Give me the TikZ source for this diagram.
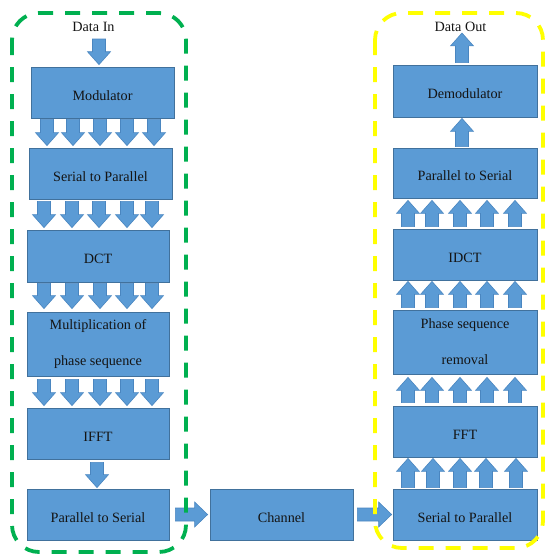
\documentclass[tikz,border=0pt]{standalone}
\usepackage{fontspec}
\setmainfont{Liberation Serif}
\usetikzlibrary{calc}

\definecolor{boxblue}{HTML}{5B9BD5}
\definecolor{boxedge}{HTML}{41719C}
\definecolor{arrowedge}{HTML}{4A86C0}
\definecolor{framegreen}{HTML}{00B050}
\definecolor{frameyellow}{HTML}{FFFF00}
\definecolor{labeltext}{HTML}{141414}

\tikzset{
  labelfont/.style={font=\fontsize{14.2}{17}\selectfont, text=labeltext},
  stage/.style={draw=boxedge, fill=boxblue, line width=0.8pt, inner sep=0pt,
    minimum width=143pt, minimum height=51pt, labelfont},
  oneline/.style={text height=15pt, text depth=0pt},
  twoline/.style={align=center, font=\fontsize{14.2}{36}\selectfont},
  blockarrow/.style={fill=boxblue, draw=arrowedge, line width=0.6pt, line join=miter},
  groupframe/.style={dash pattern=on 15pt off 12pt, line width=3.8pt, rounded corners=27pt}
}

% vertical block arrow: base point, tip point, x position
\newcommand\blockv[3]{%
  \path[blockarrow] let \p1=#1, \p2=#2, \p3=($(\p2)!13pt!(\p1)$), \p4=(#3,0) in
    (\x4-6.5pt,\y1) -- (\x4-6.5pt,\y3) -- (\x4-11.5pt,\y3) -- (\x4,\y2)
    -- (\x4+11.5pt,\y3) -- (\x4+6.5pt,\y3) -- (\x4+6.5pt,\y1) -- cycle;}

% horizontal block arrow: base point, tip point
\newcommand\blockh[2]{%
  \path[blockarrow] let \p1=#1, \p2=#2, \p3=($(\p2)!13pt!(\p1)$) in
    (\x1,\y1-6.5pt) -- (\x3,\y1-6.5pt) -- (\x3,\y1-12.5pt) -- (\x2,\y1)
    -- (\x3,\y1+12.5pt) -- (\x3,\y1+6.5pt) -- (\x1,\y1+6.5pt) -- cycle;}

\begin{document}
\begin{tikzpicture}[x=1pt, y=-1pt]
\useasboundingbox (0,0) rectangle (544,554);

% transmitter chain
\node[labelfont, inner sep=0pt] (datain) at (93.5,27) {Data In};
\node[stage, oneline] (mod) at (102.5,92.5) {Modulator};
\node[stage, oneline] (sp) at (100.5,173.5) {Serial to Parallel};
\node[stage, oneline, minimum width=142pt, minimum height=52pt] (dct) at (98,256) {DCT};
\node[stage, twoline, minimum width=142pt, minimum height=64pt] (mult) at (98,344) {Multiplication of\\phase sequence};
\node[stage, oneline, minimum width=142pt] (ifft) at (98,433.5) {IFFT};
\node[stage, oneline, minimum width=142pt] (ptos) at (98,514.5) {Parallel to Serial};

% channel
\node[stage, oneline] (chan) at (281.5,514.5) {Channel};

% receiver chain
\node[labelfont, inner sep=0pt] (dataout) at (460.5,27) {Data Out};
\node[stage, oneline, minimum width=144pt, minimum height=52pt] (demod) at (465,91) {Demodulator};
\node[stage, oneline, minimum width=144pt, minimum height=50pt] (rptos) at (465,173) {Parallel to Serial};
\node[stage, oneline, minimum width=144pt] (idct) at (465,254.5) {IDCT};
\node[stage, twoline, minimum width=144pt, minimum height=64pt] (psr) at (465,342) {Phase sequence\\removal};
\node[stage, oneline, minimum width=144pt] (fft) at (465,431.5) {FFT};
\node[stage, oneline, minimum width=144pt] (rsp) at (465,514.5) {Serial to Parallel};

\coordinate (inTop) at (99,39);
\coordinate (outTip) at (462,33);

% arrows of the transmitter
\blockv{(inTop)}{($(mod.north)+(0,-2)$)}{99}
\foreach \ax in {47,73,100,127,154}
  {\blockv{($(mod.south)+(0,1)$)}{($(sp.north)+(0,-2)$)}{\ax}}
\foreach \ax in {44,72,99,127,152}
  {\blockv{($(sp.south)+(0,2)$)}{($(dct.north)+(0,-2)$)}{\ax}}
\foreach \ax in {44,72,100,127,152}
  {\blockv{($(dct.south)+(0,1)$)}{($(mult.north)+(0,-3)$)}{\ax}}
\foreach \ax in {44,72,100,127,152}
  {\blockv{($(mult.south)+(0,3)$)}{($(ifft.north)+(0,-2)$)}{\ax}}
\blockv{($(ifft.south)+(0,3)$)}{($(ptos.north)+(0,-1)$)}{97}

% arrows through the channel
\blockh{($(ptos.east)+(6,0)$)}{($(chan.west)+(-2,0)$)}
\blockh{($(chan.east)+(4,0)$)}{($(rsp.west)+(-1,0)$)}

% arrows of the receiver
\foreach \ax in {408,433,460,486,516}
  {\blockv{($(rsp.north)+(0,-1)$)}{($(fft.south)+(0,1)$)}{\ax}}
\foreach \ax in {408,432,460,487,515}
  {\blockv{($(fft.north)+(0,-3)$)}{($(psr.south)+(0,3)$)}{\ax}}
\foreach \ax in {408,432,460,487,515}
  {\blockv{($(psr.north)+(0,-2)$)}{($(idct.south)+(0,1)$)}{\ax}}
\foreach \ax in {408,432,460,487,515}
  {\blockv{($(idct.north)+(0,-2)$)}{($(rptos.south)+(0,2)$)}{\ax}}
\blockv{($(rptos.north)+(0,-1)$)}{($(demod.south)+(0,1)$)}{462}
\blockv{($(demod.north)+(0,-2)$)}{(outTip)}{462}

% dashed group frames
\draw[groupframe, framegreen] (12,13) rectangle (186,552);
\draw[groupframe, frameyellow] (375,13) rectangle (543,548);
\end{tikzpicture}
\end{document}
